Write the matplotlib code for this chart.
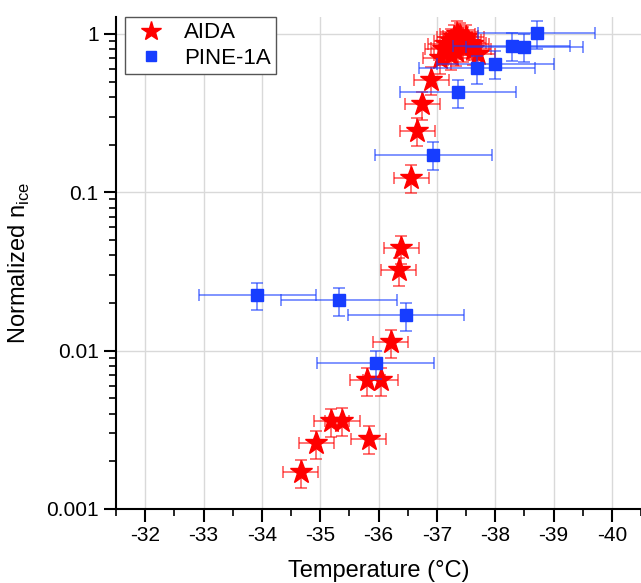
import numpy as np
import matplotlib
matplotlib.use("Agg")
import matplotlib.pyplot as plt
from matplotlib.lines import Line2D
from matplotlib.ticker import FixedLocator, FuncFormatter, LogLocator, NullFormatter

plt.rcParams["font.family"] = ["Liberation Sans", "DejaVu Sans"]

# AIDA: temperature (degC) and normalized n_ice
aida_t = [-34.67, -34.93, -35.19, -35.38, -35.83, -35.81, -36.04, -36.21,
          -36.35, -36.39, -36.56, -36.66, -36.75, -36.90,
          -37.06, -37.10, -37.15, -37.20, -37.25, -37.30, -37.35, -37.40,
          -37.45, -37.50, -37.55, -37.32, -37.45, -37.62, -37.25,
          -37.70, -37.60]
aida_n = [0.0017, 0.0026, 0.00357, 0.0036, 0.00277, 0.0065, 0.0065, 0.0113,
          0.0322, 0.0442, 0.123, 0.244, 0.359, 0.514,
          0.70, 0.80, 0.86, 0.81, 0.90, 0.95, 1.00, 0.97,
          0.92, 0.95, 0.88, 0.78, 0.83, 0.80, 0.74,
          0.75, 0.86]
aida_t_err = 0.3
aida_rel_err = 0.2

# PINE-1A
pine_t = [-33.92, -35.32, -36.47, -35.95, -36.94, -37.36, -37.69, -38.00,
          -38.28, -38.50, -38.71]
pine_n = [0.0224, 0.0208, 0.0167, 0.0083, 0.172, 0.427, 0.607, 0.646,
          0.843, 0.831, 1.01]
pine_t_err = 1.0
pine_rel_err = 0.2

red = "#ff0000"
blue = "#173dff"

fig = plt.figure(figsize=(6.41, 5.83), dpi=100)
ax = fig.add_axes([0.181, 0.127, 0.819, 0.844])

an = np.array(aida_n)
ax.errorbar(aida_t, aida_n, xerr=aida_t_err, yerr=an * aida_rel_err,
            fmt="*", color=red, ms=17, mec=red, ecolor=(1, 0, 0, 0.55),
            elinewidth=1.4, capsize=4, capthick=1.4, zorder=3)

pn = np.array(pine_n)
ax.errorbar(pine_t, pine_n, xerr=pine_t_err, yerr=pn * pine_rel_err,
            fmt="s", color=blue, ms=8, mec=blue, ecolor=(0.09, 0.24, 1, 0.55),
            elinewidth=1.4, capsize=4, capthick=1.4, zorder=4)

ax.set_yscale("log")
ax.set_ylim(0.001, 1.28)
ax.set_xlim(-31.5, -40.5)

ax.xaxis.set_major_locator(FixedLocator(np.arange(-32, -40.5, -1)))
ax.xaxis.set_minor_locator(FixedLocator(np.arange(-31.5, -40.6, -0.5)))
ax.xaxis.set_major_formatter(FuncFormatter(lambda v, p: "%d" % v))

ax.yaxis.set_major_locator(FixedLocator([0.001, 0.01, 0.1, 1]))
ax.yaxis.set_major_formatter(FuncFormatter(lambda v, p: "%g" % v))
ax.yaxis.set_minor_locator(LogLocator(base=10, subs=np.arange(2, 10)))
ax.yaxis.set_minor_formatter(NullFormatter())

ax.tick_params(which="major", direction="out", length=9, width=1.5, labelsize=15, colors="black")
ax.tick_params(which="minor", direction="out", length=5, width=1.2)
ax.tick_params(axis="x", pad=3)

ax.grid(True, which="major", color="#d9d9d9", linewidth=1.0)
ax.set_axisbelow(True)

for s in ["top", "right"]:
    ax.spines[s].set_visible(False)
for s in ["left", "bottom"]:
    ax.spines[s].set_linewidth(1.5)

ax.set_xlabel("Temperature (°C)", fontsize=17, labelpad=11)
ax.set_ylabel(r"Normalized n$_\mathregular{ice}$", fontsize=17, labelpad=10)

handles = [
    Line2D([], [], ls="none", marker="*", color=red, ms=15),
    Line2D([], [], ls="none", marker="s", color=blue, ms=7),
]
leg = ax.legend(handles, ["AIDA", "PINE-1A"], loc="upper left",
                bbox_to_anchor=(0.017, 1.0), borderaxespad=0.0,
                fontsize=16, frameon=True, fancybox=False,
                edgecolor="#555555", framealpha=1, borderpad=0.25,
                handletextpad=0.6, handlelength=1.8, labelspacing=0.2)
leg.get_frame().set_linewidth(1.0)

fig.savefig("out.png", dpi=100)
